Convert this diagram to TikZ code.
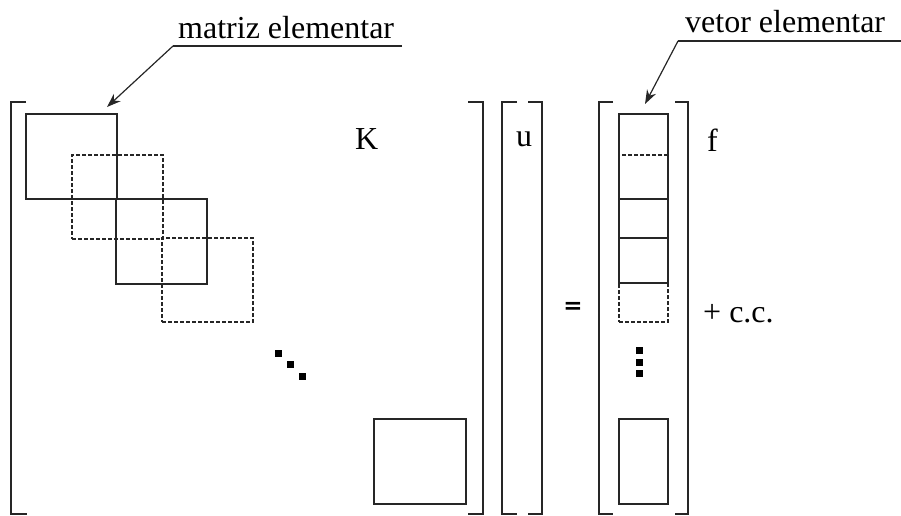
\documentclass[tikz,border=0pt]{standalone}
\usepackage{fontspec}
\setmainfont{Liberation Serif}
\newfontfamily\eqfont{DejaVu Sans}
\usetikzlibrary{arrows.meta}
\begin{document}
\begin{tikzpicture}[x=1pt,y=-1pt,
  ln/.style={draw=black!85,line width=1.2pt},
  dsh/.style={draw=black!85,line width=1.2pt,dash pattern=on 4pt off 2pt},
  blk/.style={draw=none,inner sep=0pt,outer sep=0pt,anchor=north west},
  sqr/.style={blk,ln,minimum width=91pt,minimum height=85pt},
  sqd/.style={blk,dsh,minimum width=91pt,minimum height=84pt},
  cell/.style={blk,ln,minimum width=49pt},
  celld/.style={blk,dsh,minimum width=49pt},
  dotsq/.style={fill=black,draw=none,inner sep=0pt,minimum size=7pt},
  lbl/.style={inner sep=0pt,anchor=base west,font=\fontsize{32}{38}\selectfont},
  brk/.style={ln,line cap=butt},
  pointer/.style={ln,-{Stealth[length=14pt,width=10pt]}}]
\useasboundingbox (0,0) rectangle (901,515);

% brackets
\draw[brk] (26,102) -- (11,102) -- (11,514) -- (27,514);
\draw[brk] (468,102) -- (483,102) -- (483,514) -- (468,514);
\draw[brk] (517,102) -- (502,102) -- (502,514) -- (517,514);
\draw[brk] (528,102) -- (542,102) -- (542,514) -- (528,514);
\draw[brk] (613,102) -- (599,102) -- (599,514) -- (613,514);
\draw[brk] (675,102) -- (688,102) -- (688,514) -- (675,514);

% element matrices of K
\node[sqr] (m1) at (26,114) {};
\node[sqd] (m2) at (72,155) {};
\node[sqr] (m3) at (116,199) {};
\node[sqd] (m4) at (162,238) {};
\node[sqr,minimum width=92pt,minimum height=85pt] (mn) at (374,419) {};

% element vectors of f
\node[cell,minimum height=85pt] (v1) at (619,114) {};
\node[celld,minimum height=83pt] (v2) at (619,155) {};
\node[cell,minimum height=84pt] (v3) at (619,199) {};
\node[celld,minimum height=84pt] (v4) at (619,238) {};
\node[cell,minimum height=85pt] (vn) at (619,419) {};

% diagonal and vertical dots
\node[dotsq] (d1) at (278,353) {};
\node[dotsq] (d2) at (290,364) {};
\node[dotsq] (d3) at (302,376) {};
\node[dotsq] (e1) at (639,350) {};
\node[dotsq] (e2) at (639,362) {};
\node[dotsq] (e3) at (639,373) {};

% symbols
\node[lbl] (K) at (355,149) {K};
\node[lbl] (u) at (516,146) {u};
\node[lbl] (f) at (707,151) {f};
\node[lbl] (cc) at (703,322) {+ c.c.};
\node[inner sep=0pt,font=\eqfont\bfseries\fontsize{23}{26}\selectfont] (eq) at (573,308) {=};

% callouts
\node[lbl] (lm) at (178,38) {matriz elementar};
\node[lbl] (lv) at (685,32) {vetor elementar};
\coordinate (lmL) at (173,46);
\coordinate (lmR) at (402,46);
\coordinate (lvL) at (678,41);
\coordinate (lvR) at (901,41);
\coordinate (tm) at (107,107);
\coordinate (tv) at (645,104);
\draw[ln] (lmR) -- (lmL);
\draw[pointer] (lmL) -- (tm);
\draw[ln] (lvR) -- (lvL);
\draw[pointer] (lvL) -- (tv);
\end{tikzpicture}
\end{document}
